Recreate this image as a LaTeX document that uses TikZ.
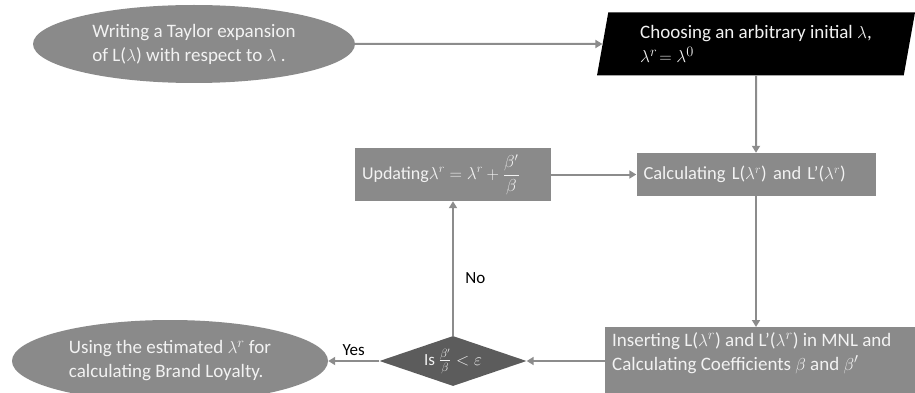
\documentclass[tikz,border=0pt]{standalone}
\usepackage{amsmath}
\usepackage{fontspec}
\setmainfont{Carlito}
\usetikzlibrary{shapes.geometric}
\usetikzlibrary{arrows.meta}

\definecolor{shapegray}{RGB}{138,138,138}
\definecolor{diamgray}{RGB}{92,92,92}
\definecolor{linegray}{RGB}{140,140,140}
\definecolor{lighttext}{RGB}{242,242,242}

\begin{document}
\begin{tikzpicture}[x=1pt,y=-1pt,
    every node/.style={font=\fontsize{19}{24}\selectfont},
    oval/.style={ellipse,fill=shapegray,text=lighttext,align=left,inner sep=0pt},
    inout/.style={trapezium,trapezium left angle=76,trapezium right angle=104,
                  trapezium stretches body,fill=black,text=lighttext,align=left,inner sep=4pt},
    process/.style={rectangle,fill=shapegray,text=lighttext,align=left,inner xsep=7pt,inner ysep=4pt},
    decision/.style={diamond,aspect=2.9,fill=diamgray,text=lighttext,inner sep=0pt,
                     minimum width=147,minimum height=50,font=\fontsize{17}{20}\selectfont},
    answer/.style={font=\fontsize{17}{20}\selectfont,text=black},
    arrow/.style={-{Triangle[width=8pt,length=7pt]},draw=linegray,line width=2pt}]

     \clip (0,0) rectangle (915,393);                                                   % frame of the figure

     \node [oval,minimum width=322,minimum height=78] (taylor) at (194,44)
           {Writing a Taylor expansion\\ of L($\lambda$) with respect to $\lambda$ .};
     \node [inout,minimum width=318,minimum height=63] (choose) at (756,44)
           {Choosing an arbitrary initial $\lambda$,\\ $\lambda^{r}\!=\lambda^{0}$};
     \node [process,text width=225,minimum height=43,font=\fontsize{18.5}{22}\selectfont] (calc) at (756,174.5)
           {Calculating L($\lambda^{r}$) and L'($\lambda^{r}$)};
     \node [process,text width=182,minimum height=53,font=\fontsize{18}{22}\selectfont] (update) at (453,174.5)
           {Updating$\lambda^{r}=\lambda^{r}+\dfrac{\beta'}{\beta}$};
     \node [process,anchor=north west,inner ysep=5pt] (insert) at (605,327)
           {\parbox[t][64pt][t]{300pt}{\raggedright Inserting L($\lambda^{r}$) and L'($\lambda^{r}$) in MNL and\\
            Calculating Coefficients $\beta$ and $\beta'$}};
     \node [decision] (check) at (453,361) {Is $\frac{\beta'}{\beta}<\varepsilon$};
     \node [oval,minimum width=316,minimum height=82] (using) at (170,361)
           {Using the estimated $\lambda^{r}$ for\\ calculating Brand Loyalty.};

     \draw [arrow] (taylor) -- (choose);                                              % start
     \draw [arrow] (choose) -- (calc);
     \draw [arrow] (calc.south) -- (calc.south |- insert.north);
     \draw [arrow] (insert.west |- check) -- (check.east);
     \draw [arrow] (check.north) -- (update.south) node [answer,pos=0.43,right=8pt] {No};  % loop back
     \draw [arrow] (update) -- (calc);
     \draw [arrow] (check.west) -- (using.east) node [answer,pos=0.5,above=1pt] {Yes};
\end{tikzpicture}
\end{document}
